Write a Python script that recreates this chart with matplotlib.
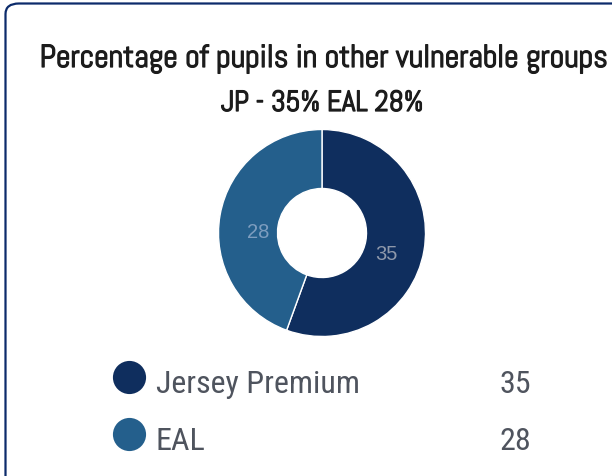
import matplotlib
matplotlib.use('Agg')
import matplotlib.pyplot as plt
import matplotlib.patheffects as pe
from matplotlib.patches import FancyBboxPatch

# pupils in other vulnerable groups (%)
groups = ['Jersey Premium', 'EAL']
values = [35, 28]
colors = ['#0f2e5e', '#245f8c']
label_colors = ['#8e98aa', '#7d9dbf']

title = 'Percentage of pupils in other vulnerable groups'
subtitle = 'JP - 35% EAL 28%'

W, H = 612, 477
ink = '#1c1c1c'
grey = '#4f545e'

fig = plt.figure(figsize=(W / 100, H / 100), dpi=100)
fig.patch.set_facecolor('white')

# card outline, runs off the right and bottom edges
card = FancyBboxPatch((5.5 / W, -0.05), 1.2, 1 - 4.5 / H + 0.05,
                      boxstyle='round,pad=0,rounding_size=0.022',
                      transform=fig.transFigure, facecolor='none',
                      edgecolor='#0c2b6b', linewidth=1.6)
fig.patches.append(card)

# Abel has no bold cut, thicken it with a stroke
heavy = [pe.withStroke(linewidth=0.9, foreground=ink)]
fig.text(323.5 / W, 1 - 68 / H, title, ha='center', va='baseline',
         fontsize=23, family='Abel', color=ink, path_effects=heavy)
fig.text(322 / W, 1 - 112 / H, subtitle, ha='center', va='baseline',
         fontsize=21, family='Abel', color=ink, path_effects=heavy)

# donut
r = 103.5
cx, cy = 322, 234
ax = fig.add_axes([(cx - r) / W, 1 - (cy + r) / H, 2 * r / W, 2 * r / H])
wedges, texts = ax.pie(values, colors=colors, startangle=90, counterclock=False,
                       labels=[str(v) for v in values], labeldistance=0.63,
                       wedgeprops=dict(width=0.57, edgecolor='white', linewidth=1.0),
                       textprops=dict(fontsize=14.5, family='Liberation Sans'))
for t, c in zip(texts, label_colors):
    t.set_color(c)
    t.set_ha('center')
    t.set_va('top')
ax.set_xlim(-1, 1)
ax.set_ylim(-1, 1)
ax.set_aspect('equal')

# legend rows
lax = fig.add_axes([0, 0, 1, 1])
lax.set_xlim(0, W)
lax.set_ylim(H, 0)
lax.axis('off')
row_y = [393, 450]
for name, v, c, y in zip(groups, values, colors, row_y):
    lax.scatter([129], [y - 15], s=570, color=c, zorder=3, linewidths=0)
    lax.text(156, y, name, ha='left', va='baseline', fontsize=23,
             family='Roboto Condensed', color=grey)
    lax.text(515, y, str(v), ha='center', va='baseline', fontsize=23,
             family='Roboto Condensed', color=grey)

fig.savefig('out.png', dpi=100, facecolor='white')
